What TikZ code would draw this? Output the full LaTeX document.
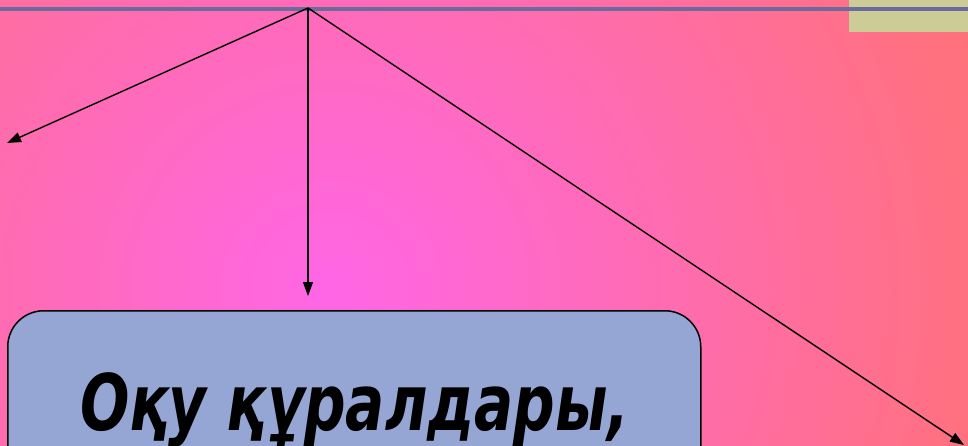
\documentclass[tikz,border=0pt]{standalone}
\usepackage{fontspec}
\setmainfont{DejaVu Sans}
\usepackage{tikz}
\usetikzlibrary{arrows.meta, positioning, shapes.geometric}
\definecolor{bgcenter}{HTML}{FF66E6}
\definecolor{bgedge}{HTML}{FF7274}
\definecolor{boxfill}{HTML}{96A6D4}
\definecolor{topline}{HTML}{6B6B9E}
\definecolor{khaki}{HTML}{CCCC96}
\tikzset{
  % connector and box styles
  arrow/.style={-{Triangle[length=14pt, width=10pt]}, line width=1.4pt, black},
  titlebox/.style={rectangle, rounded corners=36pt, draw=black, line width=1.5pt, fill=boxfill, minimum width=693pt, minimum height=220pt},
  title/.style={font=\bfseries\itshape\fontsize{78}{90}\selectfont, text=black, inner sep=0pt},
}
\begin{document}
\begin{tikzpicture}[x=1pt, y=-1pt]
    \clip (0,0) rectangle (968,446);
    % background
    \fill[bgedge] (0,0) rectangle (968,446);
    \shade[inner color=bgcenter, outer color=bgedge] (330,290) circle (720);
    \fill[khaki] (849,0) rectangle (968,32);
    \draw[topline, line width=4pt] (0,9) -- (968,9);

    % apex and arrow ends
    \coordinate (apex) at (308,8);
    \coordinate (leftend) at (7,143);
    \coordinate (midend) at (308,296);
    \coordinate (rightend) at (964,445);

    % Title box
    \node[titlebox, anchor=north west] (box) at (7,310) {};
    \node[title, anchor=base] (boxtitle) at (355,430) {\scalebox{0.745}[1]{Оқу құралдары,}};

    % Arrows
    \draw[arrow] (apex) -- (leftend);
    \draw[arrow] (apex) -- (midend);
    \draw[arrow] (apex) -- (rightend);
\end{tikzpicture}
\end{document}
